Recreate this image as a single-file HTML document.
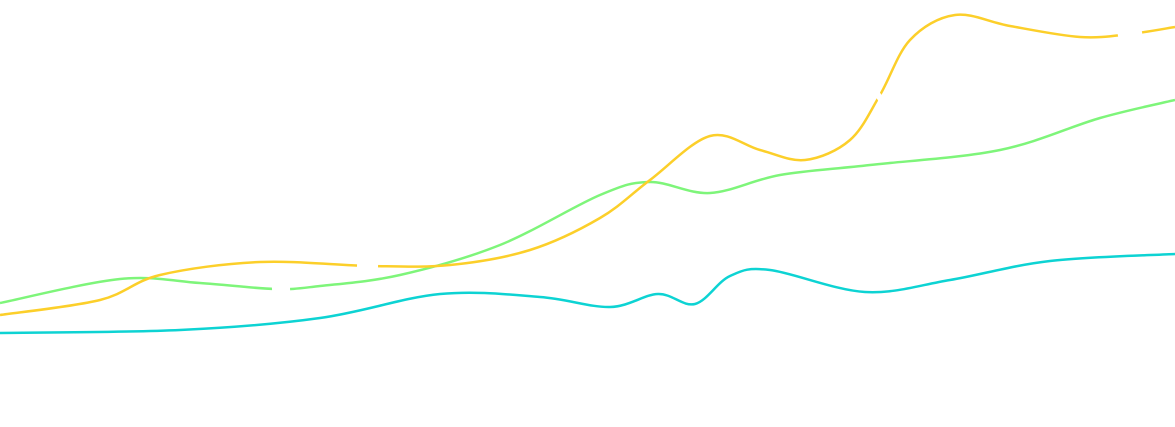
<!DOCTYPE html>
<html><head><meta charset="utf-8"><style>
html,body{margin:0;padding:0;background:#fff;width:1175px;height:427px;overflow:hidden}
svg{display:block}
</style></head><body>
<svg id="s" width="1175" height="427" viewBox="0 0 1175 427" xmlns="http://www.w3.org/2000/svg">
<path id="g" fill="none" stroke="#7ef57a" stroke-width="2.5"/>
<path id="y" fill="none" stroke="#fccf2a" stroke-width="2.5"/>
<path id="c" fill="none" stroke="#0dd3d3" stroke-width="2.5"/>
<g stroke="#fff" stroke-width="6">
<line x1="272" y1="289" x2="290" y2="288"/>
<line x1="357" y1="266" x2="378" y2="267"/>
<line x1="876" y1="92" x2="884" y2="104"/>
<line x1="1118" y1="36" x2="1142" y2="32"/>
</g>
</svg>
<script>
function sp(p){var d="M"+p[0][0]+","+p[0][1];for(var i=0;i<p.length-1;i++){var a=p[i-1]||p[i],b=p[i],c=p[i+1],e=p[i+2]||c;var t=6;d+=" C"+(b[0]+(c[0]-a[0])/t)+","+(b[1]+(c[1]-a[1])/t)+" "+(c[0]-(e[0]-b[0])/t)+","+(c[1]-(e[1]-b[1])/t)+" "+c[0]+","+c[1];}return d;}
document.getElementById("y").setAttribute("d",sp([[0,315],[100,300],[160,275],[260,262],[370,266],[450,265],[530,250],[600,218],[650,180],[710,136],[760,150],[805,160],[850,140],[880,95],[910,40],[955,15],[1010,26],[1080,37],[1130,34],[1175,27]]));
document.getElementById("g").setAttribute("d",sp([[0,303],[120,279],[200,283],[275,289],[320,286],[400,275],[500,245],[600,195],[650,182],[710,193],[780,175],[870,165],[1000,150],[1100,118],[1175,100]]));
document.getElementById("c").setAttribute("d",sp([[0,333],[180,330],[320,318],[440,294],[540,297],[610,307],[658,294],[695,304],[730,276],[770,270],[865,292],[950,280],[1050,261],[1175,254]]));
</script>
</body></html>
